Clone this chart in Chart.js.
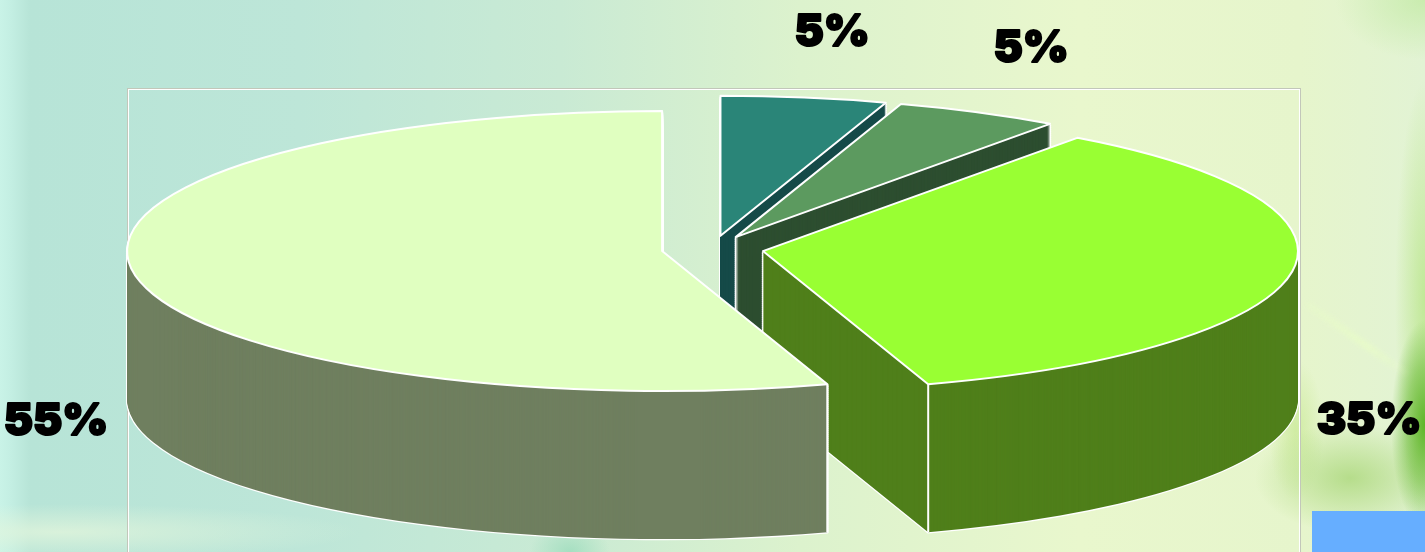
<!DOCTYPE html>
<html>
<head>
<meta charset="utf-8">
<title>Pie</title>
<script src="https://cdn.jsdelivr.net/npm/chart.js@4/dist/chart.umd.min.js"></script>
<style>
    html, body { margin: 0; padding: 0; }
    body {
        width: 1425px;
        height: 552px;
        overflow: hidden;
        position: relative;
        background:
            radial-gradient(ellipse 300px 28px at 60px 532px, rgba(228,246,220,.75), rgba(228,246,220,0)),
            radial-gradient(ellipse 40px 30px at 570px 552px, rgba(150,218,185,.7), rgba(150,218,185,0)),
            radial-gradient(ellipse 34px 105px at 1425px 425px, rgba(92,180,36,.98), rgba(92,180,36,.5) 55%, rgba(92,180,36,0)),
            radial-gradient(ellipse 30px 220px at 1425px 300px, rgba(170,225,110,.6), rgba(170,225,110,0)),
            radial-gradient(ellipse 95px 55px at 1350px 478px, rgba(170,215,122,.8), rgba(170,215,122,0)),
            radial-gradient(ellipse 28px 70px at 1296px 430px, rgba(198,232,145,.7), rgba(198,232,145,0)),
            radial-gradient(ellipse 90px 60px at 1425px 0, rgba(195,234,165,.8), rgba(195,234,165,0)),
            linear-gradient(90deg, #c9f3e7 0, #c4efe3 10px, #b7e4d7 30px, #bde6d8 300px, #c9ead4 560px, #dcf2cd 800px, #e9f7cd 1080px, #e6f5cc 1300px, #e2f3d4 1425px);
    }
    #chart { position: absolute; left: 0; top: 0; }
    .streak {
        position: absolute; left: 1295px; top: 336px; width: 125px; height: 7px;
        background: linear-gradient(90deg, rgba(232,252,200,.3), rgba(232,252,200,.8) 60%, rgba(232,252,200,0));
        filter: blur(2px); transform: rotate(35deg);
    }
    .blue-box { position: absolute; left: 1312px; top: 511px; width: 113px; height: 41px; background: #66aeff; }
</style>
</head>
<body>
<div class="streak"></div>
<canvas id="chart" width="1425" height="552"></canvas>
<div class="blue-box"></div>
<script>
const sliceLabels = ['5%', '5%', '35%', '55%'];
const sliceValues = [5, 5, 35, 55];
const topColors = ['#2a8578', '#5c9a5f', '#99ff33', '#e0ffc0'];
const wallColors = ['#154a48', '#2d4e30', '#4f7f1a', '#6f7f5f'];

const squash = 0.2617; // ry / rx of the tilted pie
const depth = 148;
const explode = 51;
const pieCenterY = 249;
const labelSpots = [[832, 33], [1031, 49], [1369, 421], [56, 422]];

// moves the flat circle into its tilted place, pushed out along its middle angle
function tilt(ctx, arc, dy) {
    const mid = (arc.startAngle + arc.endAngle) / 2;
    ctx.translate(0, pieCenterY + dy);
    ctx.scale(1, squash);
    ctx.translate(Math.cos(mid) * explode, Math.sin(mid) * explode - arc.y);
}

function drawFace(ctx, arc, color, dy) {
    const saved = arc.options;
    arc.options = Object.create(saved);
    arc.options.backgroundColor = color;
    arc.options.borderWidth = 0;
    ctx.save();
    tilt(ctx, arc, dy);
    arc.draw(ctx);
    ctx.restore();
    arc.options = saved;
}

// same outline as the arc element fills, but stroked with a round pen
function outlineFace(ctx, arc, dy, width) {
    ctx.save();
    ctx.save();
    tilt(ctx, arc, dy);
    ctx.beginPath();
    ctx.arc(arc.x, arc.y, arc.outerRadius, arc.startAngle, arc.endAngle);
    ctx.lineTo(arc.x, arc.y);
    ctx.closePath();
    ctx.restore();
    ctx.strokeStyle = '#ffffff';
    ctx.lineWidth = width;
    ctx.lineJoin = 'round';
    ctx.stroke();
    ctx.restore();
}

function frontCorners(ctx, arc) {
    const mid = (arc.startAngle + arc.endAngle) / 2;
    [arc.startAngle, arc.endAngle].forEach(angle => {
        if (Math.sin(angle) <= 0) return;
        const x = arc.x + Math.cos(mid) * explode + Math.cos(angle) * arc.outerRadius;
        const y = pieCenterY + (Math.sin(mid) * explode + Math.sin(angle) * arc.outerRadius) * squash;
        ctx.save();
        ctx.strokeStyle = '#ffffff';
        ctx.lineWidth = 2;
        ctx.beginPath();
        ctx.moveTo(x, y);
        ctx.lineTo(x, y + depth);
        ctx.stroke();
        ctx.restore();
    });
}

const tiltedPie = {
    id: 'tiltedPie',
    beforeDraw(chart) {
        // plot frame, grey with a white inner line
        const ctx = chart.ctx;
        ctx.save();
        ctx.lineWidth = 1;
        ctx.strokeStyle = '#c2c7ba';
        ctx.strokeRect(127.5, 88.5, 1173, 480);
        ctx.strokeStyle = '#ffffff';
        ctx.strokeRect(128.5, 89.5, 1171, 480);
        ctx.restore();
    },
    beforeDatasetDraw(chart, args) {
        const ctx = chart.ctx;
        args.meta.data.forEach((arc, i) => {
            for (let dy = depth; dy > 0; dy -= 2) outlineFace(ctx, arc, dy, 2.4);
            for (let dy = depth; dy > 0; dy--) drawFace(ctx, arc, wallColors[i], dy);
            frontCorners(ctx, arc);
            drawFace(ctx, arc, topColors[i], 0);
            outlineFace(ctx, arc, 0, 2);
        });
        return false;
    },
    afterDraw(chart) {
        const ctx = chart.ctx;
        ctx.save();
        ctx.font = '900 44px Inter, "DejaVu Sans"';
        ctx.textAlign = 'center';
        ctx.textBaseline = 'middle';
        ctx.fillStyle = '#000000';
        ctx.strokeStyle = '#000000';
        ctx.lineWidth = 2;
        ctx.lineJoin = 'round';
        sliceLabels.forEach((text, i) => {
            ctx.strokeText(text, labelSpots[i][0], labelSpots[i][1]);
            ctx.fillText(text, labelSpots[i][0], labelSpots[i][1]);
        });
        ctx.restore();
    }
};

new Chart(document.getElementById('chart'), {
    type: 'pie',
    data: {
        labels: sliceLabels,
        datasets: [{
            data: sliceValues,
            backgroundColor: topColors,
            borderWidth: 0
        }]
    },
    options: {
        responsive: false,
        animation: false,
        events: [],
        radius: 535,
        plugins: { legend: { display: false }, tooltip: { enabled: false } }
    },
    plugins: [tiltedPie]
});
</script>
</body>
</html>
